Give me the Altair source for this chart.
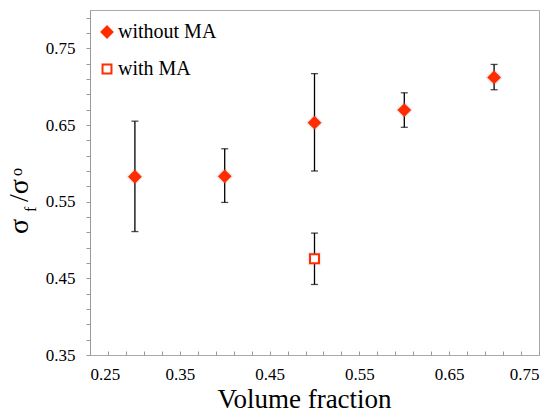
import altair as alt
import pandas as pd

series = ["without MA", "with MA"]

x_without = [0.3, 0.4, 0.5, 0.6, 0.7]
y_without = [0.5825, 0.583, 0.653, 0.6695, 0.712]
lo_without = [0.511, 0.549, 0.590, 0.647, 0.696]
hi_without = [0.655, 0.619, 0.717, 0.692, 0.729]

x_with = [0.5]
y_with = [0.4756]
lo_with = [0.442]
hi_with = [0.509]

x_ticks = [round(0.25 + 0.02 * k, 2) for k in range(26)]
y_ticks = [round(0.35 + 0.02 * k, 2) for k in range(23)]

RED = "#ff2d00"
FONT = "Liberation Serif"

df = pd.DataFrame({
    "vf": x_without + x_with,
    "ratio": y_without + y_with,
    "lo": lo_without + lo_with,
    "hi": hi_without + hi_with,
    "series": [series[0]] * len(x_without) + [series[1]] * len(x_with),
})

major_expr = ("round(datum.value*100) % 10 == 5 ? format(datum.value, '.2f') : ''")

x_scale = alt.Scale(domain=[0.25, 0.75], nice=False, zero=False)
x_axis = alt.Axis(
    values=x_ticks, tickCount=200, labelExpr=major_expr, labelOverlap=False,
    offset=-4, domain=False,
    tickSize=4, tickColor="#999", labelPadding=11,
    labelFont=FONT, labelFontSize=17, labelColor="black", grid=False,
    title="Volume fraction", titleFont=FONT, titleFontSize=27,
    titleFontWeight="normal", titleColor="black",
    titleBaseline="alphabetic", titleY=56, titleX=214, titleAlign="center",
)
y_scale = alt.Scale(domain=[0.35, 0.80], nice=False, zero=False)
y_axis = alt.Axis(
    values=y_ticks, tickCount=200, labelExpr=major_expr, labelOverlap=False,
    domainColor="#999",
    tickSize=4, tickColor="#999", labelPadding=11,
    labelFont=FONT, labelFontSize=17, labelColor="black", grid=False,
    title=None,
)

def X(f):
    return alt.X(f, scale=x_scale, axis=x_axis)

def Y(f):
    return alt.Y(f, scale=y_scale, axis=y_axis)

base = alt.Chart(df)

rules = base.mark_rule(color="black", strokeWidth=1.3).encode(
    x=X("vf:Q"), y=Y("lo:Q"), y2="hi:Q",
)
caps_lo = base.mark_tick(orient="horizontal", color="black", size=7, thickness=1.3).encode(
    x=X("vf:Q"), y=Y("lo:Q")
)
caps_hi = base.mark_tick(orient="horizontal", color="black", size=7, thickness=1.3).encode(
    x=X("vf:Q"), y=Y("hi:Q")
)

halo_d = base.transform_filter(alt.datum.series == series[0]).mark_point(
    shape="diamond", size=150, filled=False, stroke="#777", strokeWidth=4,
    strokeOpacity=0.18, dy=1,
).encode(x=X("vf:Q"), y=Y("ratio:Q"))
halo_s = base.transform_filter(alt.datum.series == series[1]).mark_point(
    shape="square", size=90, filled=False, stroke="#777", strokeWidth=4,
    strokeOpacity=0.15, dy=1,
).encode(x=X("vf:Q"), y=Y("ratio:Q"))

legend = alt.Legend(title=None)

points = base.mark_point(strokeWidth=2, opacity=1, fillOpacity=1).encode(
    x=X("vf:Q"),
    y=Y("ratio:Q"),
    shape=alt.Shape("series:N", scale=alt.Scale(domain=series, range=["diamond", "square"]), legend=legend),
    fill=alt.Fill("series:N", scale=alt.Scale(domain=series, range=[RED, "white"]), legend=legend),
    stroke=alt.Stroke("series:N", scale=alt.Scale(domain=series, range=[RED, RED]), legend=legend),
    size=alt.Size("series:N", scale=alt.Scale(domain=series, range=[120, 80]), legend=legend),
)

def piece(txt, x, y, size):
    return alt.Chart(pd.DataFrame({"t": [txt]})).mark_text(
        angle=270, align="left", baseline="alphabetic", font=FONT,
        fontSize=size, color="black",
    ).encode(x=alt.value(x), y=alt.value(y), text="t:N")

ytitle = (piece("σ", -62, 224, 28) + piece("f", -54, 202, 16)
          + piece("/σ", -62, 192, 28) + piece("o", -68, 166, 16))

chart = alt.layer(rules, caps_lo, caps_hi, halo_d, halo_s, points, ytitle).properties(
    width=449, height=345,
    autosize=alt.AutoSizeParams(type="none"),
    padding={"left": 82, "top": 2, "right": 8, "bottom": 62},
).configure_view(
    stroke="#aaa", strokeWidth=1
).configure_axis(
    labelFont=FONT, titleFont=FONT
).configure_legend(
    orient="none", legendX=7, legendY=12,
    labelFont=FONT, labelFontSize=20, labelColor="black",
    symbolStrokeWidth=2, rowPadding=17, padding=0, labelOffset=1,
)

chart.save("out.html", embed_options={"renderer": "svg", "actions": False})
